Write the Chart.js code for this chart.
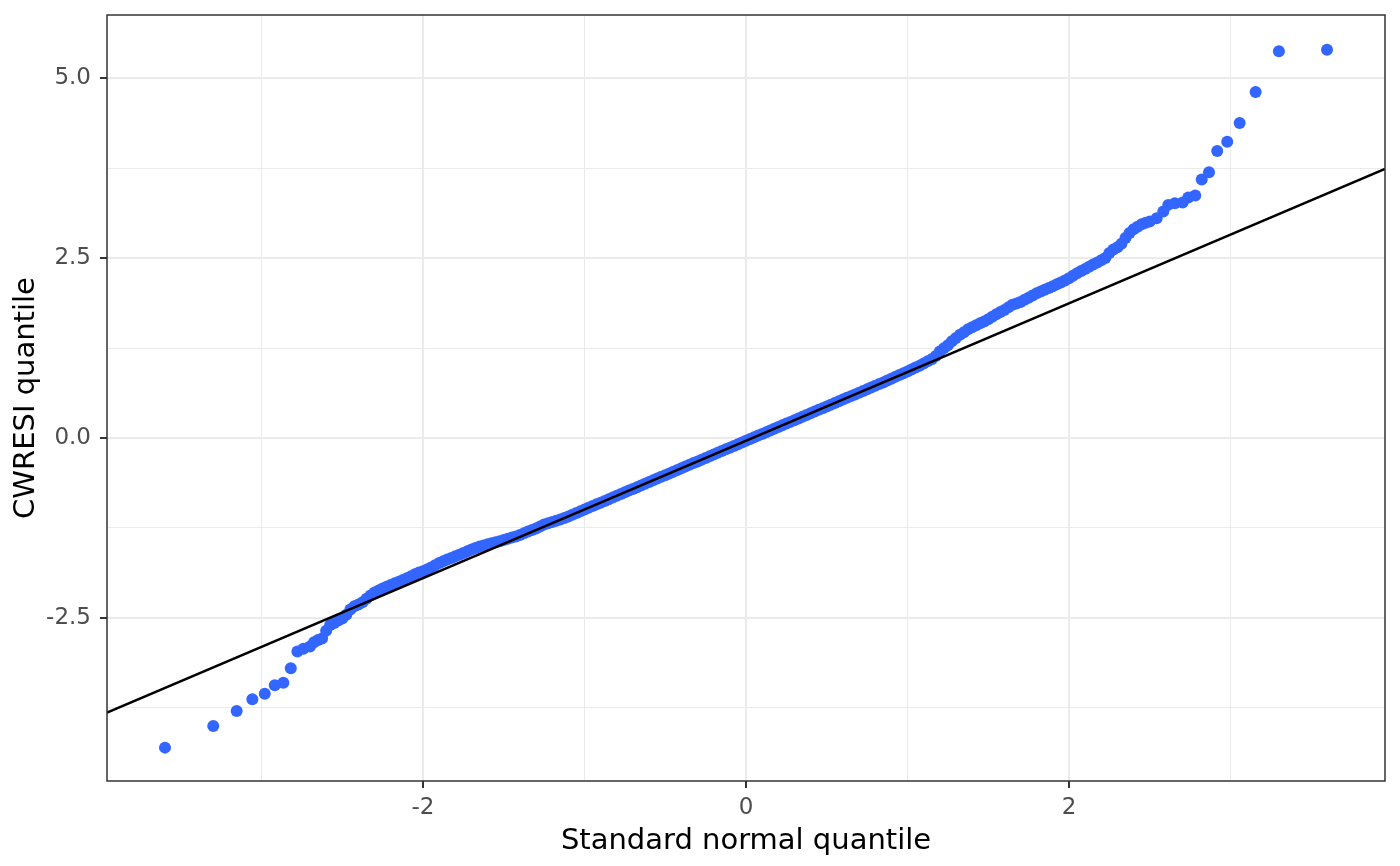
<!DOCTYPE html>
<html>
<head>
<meta charset="utf-8">
<script src="https://cdn.jsdelivr.net/npm/chart.js@4.4.1/dist/chart.umd.min.js"></script>
<style>
  html, body { margin: 0; padding: 0; background: #ffffff; }
  #wrap { width: 1400px; height: 866px; position: relative; }
</style>
</head>
<body>
<div id="wrap"><canvas id="qq"></canvas></div>
<script>
// theoretical (standard normal) quantiles
const theoQ = [
  -3.598, -3.299, -3.154, -3.057, -2.980, -2.918, -2.865, -2.819, -2.778, -2.741,
  -2.700, -2.675, -2.650, -2.625, -2.600, -2.575, -2.550, -2.525,
  -2.500, -2.475, -2.450, -2.425, -2.400, -2.375, -2.350, -2.325,
  -2.300, -2.275, -2.250, -2.225, -2.200, -2.175, -2.150, -2.125,
  -2.100, -2.075, -2.050, -2.025, -2.000, -1.975, -1.950, -1.925,
  -1.900, -1.875, -1.850, -1.825, -1.800, -1.775, -1.750, -1.725,
  -1.700, -1.675, -1.650, -1.625, -1.600, -1.575, -1.550, -1.525,
  -1.500, -1.475, -1.450, -1.425, -1.400, -1.375, -1.350, -1.325,
  -1.300, -1.275, -1.250, -1.225, -1.200, -1.175, -1.150, -1.125,
  -1.100, -1.075, -1.050, -1.025, -1.000, -0.975, -0.950, -0.925,
  -0.900, -0.875, -0.850, -0.825, -0.800, -0.775, -0.750, -0.725,
  -0.700, -0.675, -0.650, -0.625, -0.600, -0.575, -0.550, -0.525,
  -0.500, -0.475, -0.450, -0.425, -0.400, -0.375, -0.350, -0.325,
  -0.300, -0.275, -0.250, -0.225, -0.200, -0.175, -0.150, -0.125,
  -0.100, -0.075, -0.050, -0.025, 0.000, 0.025, 0.050, 0.075,
  0.100, 0.125, 0.150, 0.175, 0.200, 0.225, 0.250, 0.275,
  0.300, 0.325, 0.350, 0.375, 0.400, 0.425, 0.450, 0.475,
  0.500, 0.525, 0.550, 0.575, 0.600, 0.625, 0.650, 0.675,
  0.700, 0.725, 0.750, 0.775, 0.800, 0.825, 0.850, 0.875,
  0.900, 0.925, 0.950, 0.975, 1.000, 1.025, 1.050, 1.075,
  1.100, 1.125, 1.150, 1.175, 1.200, 1.225, 1.250, 1.275,
  1.300, 1.325, 1.350, 1.375, 1.400, 1.425, 1.450, 1.475,
  1.500, 1.525, 1.550, 1.575, 1.600, 1.625, 1.650, 1.675,
  1.700, 1.725, 1.750, 1.775, 1.800, 1.825, 1.850, 1.875,
  1.900, 1.925, 1.950, 1.975, 2.000, 2.025, 2.050, 2.075,
  2.100, 2.125, 2.150, 2.175, 2.200, 2.225, 2.250, 2.275,
  2.300, 2.325, 2.350, 2.375, 2.400, 2.425, 2.450, 2.475,
  2.500,
  2.543, 2.584, 2.615, 2.656, 2.704, 2.739, 2.782, 2.822, 2.867, 2.918,
  2.980, 3.057, 3.156, 3.300, 3.598
];

// sample CWRESI quantiles
const cwresQ = [
  -4.306, -4.006, -3.797, -3.635, -3.556, -3.440, -3.403, -3.204, -2.968, -2.931,
  -2.90, -2.84, -2.81, -2.79, -2.68, -2.60, -2.575, -2.54,
  -2.51, -2.46, -2.385, -2.34, -2.315, -2.285, -2.235, -2.19,
  -2.15, -2.12, -2.095, -2.07, -2.045, -2.02, -2.00, -1.975,
  -1.95, -1.925, -1.895, -1.87, -1.855, -1.83, -1.80, -1.77,
  -1.74, -1.715, -1.69, -1.67, -1.645, -1.625, -1.60, -1.575,
  -1.55, -1.53, -1.51, -1.495, -1.48, -1.465, -1.45, -1.437,
  -1.42, -1.403, -1.385, -1.37, -1.35, -1.325, -1.30, -1.28,
  -1.26, -1.232, -1.205, -1.185, -1.168, -1.152, -1.134, -1.113,
  -1.091, -1.067, -1.043, -1.019, -0.995, -0.971, -0.947, -0.923,
  -0.900, -0.876, -0.852, -0.828, -0.804, -0.780, -0.756, -0.732,
  -0.709, -0.685, -0.661, -0.637, -0.613, -0.589, -0.565, -0.541,
  -0.518, -0.494, -0.470, -0.446, -0.422, -0.398, -0.374, -0.350,
  -0.327, -0.303, -0.279, -0.255, -0.231, -0.207, -0.183, -0.159,
  -0.136, -0.112, -0.088, -0.064, -0.040, -0.016, 0.008, 0.032,
  0.056, 0.079, 0.103, 0.127, 0.151, 0.175, 0.199, 0.223,
  0.247, 0.270, 0.294, 0.318, 0.342, 0.366, 0.390, 0.414,
  0.438, 0.461, 0.485, 0.509, 0.533, 0.557, 0.581, 0.605,
  0.629, 0.652, 0.676, 0.700, 0.724, 0.748, 0.772, 0.797,
  0.823, 0.850, 0.875, 0.900, 0.925, 0.952, 0.980, 1.005,
  1.035, 1.065, 1.095, 1.140, 1.200, 1.245, 1.290, 1.345,
  1.390, 1.435, 1.470, 1.510, 1.540, 1.565, 1.595, 1.620,
  1.650, 1.685, 1.720, 1.750, 1.780, 1.815, 1.850, 1.870,
  1.890, 1.920, 1.950, 1.980, 2.010, 2.035, 2.060, 2.085,
  2.110, 2.135, 2.160, 2.190, 2.220, 2.255, 2.290, 2.320,
  2.350, 2.380, 2.410, 2.440, 2.470, 2.500, 2.570, 2.620,
  2.650, 2.700, 2.780, 2.850, 2.900, 2.935, 2.970, 2.990,
  3.010,
  3.055, 3.147, 3.240, 3.264, 3.272, 3.342, 3.370, 3.592, 3.694, 3.990,
  4.119, 4.379, 4.810, 5.375, 5.397
];

// reference line (qq line)
const lineIntercept = -0.04;
const lineSlope = 0.955;

// axis limits and ticks
const xLimits = [-3.957, 3.957];
const yLimits = [-4.77, 5.88];
const xMajor = [-2, 0, 2];
const xMinor = [-3, -1, 1, 3];
const xLabels = ['-2', '0', '2'];
const yMajor = [-2.5, 0, 2.5, 5];
const yMinor = [-3.75, -1.25, 1.25, 3.75];
const yLabels = ['-2.5', '0.0', '2.5', '5.0'];

const pontos = theoQ.map((x, i) => ({ x: x, y: cwresQ[i] }));
const linha = xLimits.map(x => ({ x: x, y: lineIntercept + lineSlope * x }));

function gridLargura(majors) {
    return ctx => (ctx.tick && majors.includes(ctx.tick.value)) ? 2 : 1;
}
function tickCor(majors) {
    return ctx => (ctx.tick && majors.includes(ctx.tick.value)) ? '#333333' : 'rgba(0,0,0,0)';
}

// ggplot-like panel border on all four sides
const moldura = {
    id: 'moldura',
    afterDraw(chart) {
        const a = chart.chartArea;
        const c = chart.ctx;
        c.save();
        c.strokeStyle = '#333333';
        c.lineWidth = 1.5;
        c.strokeRect(a.left, a.top, a.right - a.left, a.bottom - a.top);
        c.restore();
    }
};

const fonte = 'DejaVu Sans';

new Chart(document.getElementById('qq'), {
    type: 'scatter',
    data: {
        datasets: [
            {
                type: 'line',
                data: linha,
                borderColor: '#000000',
                borderWidth: 2.5,
                pointRadius: 0,
                fill: false,
                order: 0
            },
            {
                data: pontos,
                backgroundColor: '#3366FF',
                borderWidth: 0,
                pointRadius: 6,
                pointHoverRadius: 6,
                order: 1
            }
        ]
    },
    options: {
        responsive: true,
        maintainAspectRatio: false,
        animation: false,
        events: [],
        layout: { padding: { left: 0, top: 15, right: 15, bottom: 0 } },
        plugins: {
            legend: { display: false },
            tooltip: { enabled: false }
        },
        scales: {
            x: {
                type: 'linear',
                min: xLimits[0],
                max: xLimits[1],
                afterBuildTicks: s => { s.ticks = xMinor.concat(xMajor).sort((a, b) => a - b).map(v => ({ value: v })); },
                afterFit: s => { s.height = 85; s.paddingLeft = 0; s.paddingRight = 0; },
                border: { display: false },
                grid: {
                    color: '#EBEBEB',
                    lineWidth: gridLargura(xMajor),
                    tickColor: tickCor(xMajor),
                    tickLength: 7,
                    tickWidth: 2
                },
                ticks: {
                    autoSkip: false,
                    maxRotation: 0,
                    padding: 6,
                    color: '#4D4D4D',
                    font: { family: fonte, size: 23 },
                    callback: v => {
                        const i = xMajor.indexOf(v);
                        return i >= 0 ? xLabels[i] : '';
                    }
                },
                title: {
                    display: true,
                    text: 'Standard normal quantile',
                    color: '#000000',
                    font: { family: fonte, size: 29 },
                    padding: { top: 0, bottom: 7 }
                }
            },
            y: {
                type: 'linear',
                min: yLimits[0],
                max: yLimits[1],
                afterBuildTicks: s => { s.ticks = yMinor.concat(yMajor).sort((a, b) => a - b).map(v => ({ value: v })); },
                afterFit: s => { s.width = 107; s.paddingTop = 0; s.paddingBottom = 0; },
                border: { display: false },
                grid: {
                    color: '#EBEBEB',
                    lineWidth: gridLargura(yMajor),
                    tickColor: tickCor(yMajor),
                    tickLength: 7,
                    tickWidth: 2
                },
                ticks: {
                    autoSkip: false,
                    padding: 9,
                    color: '#4D4D4D',
                    font: { family: fonte, size: 23 },
                    callback: v => {
                        const i = yMajor.indexOf(v);
                        return i >= 0 ? yLabels[i] : '';
                    }
                },
                title: {
                    display: true,
                    text: 'CWRESI quantile',
                    color: '#000000',
                    font: { family: fonte, size: 29 },
                    padding: { top: 9, bottom: 0 }
                }
            }
        }
    },
    plugins: [moldura]
});
</script>
</body>
</html>
